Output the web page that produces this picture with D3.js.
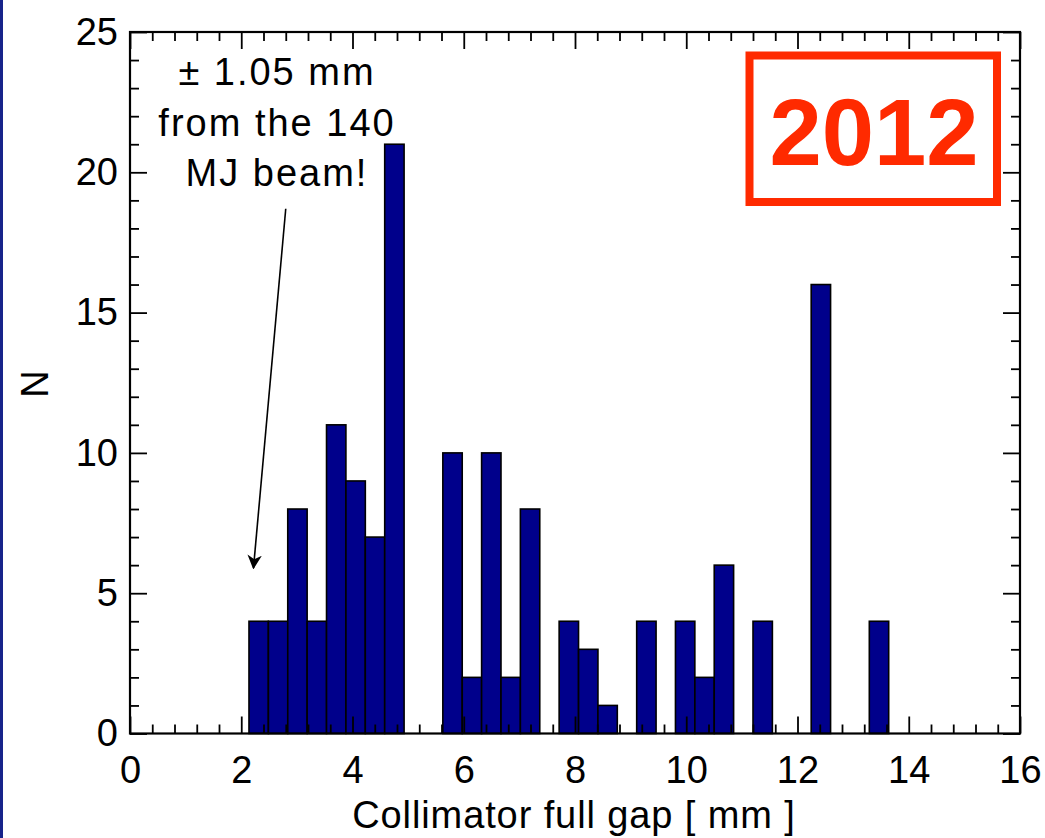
<!DOCTYPE html>
<html>
<head>
<meta charset="utf-8">
<script src="https://cdn.jsdelivr.net/npm/d3@7"></script>
<style>
  html, body { margin: 0; padding: 0; background: #fff; }
  svg { display: block; }
  text { font-family: "Liberation Sans", Arial, Helvetica, sans-serif; }
</style>
</head>
<body>
<svg id="chart" width="1045" height="838"></svg>
<script>
// ---- data ----
const binWidth = 0.3485;                 // mm
const binLeft = [2.139, 2.488, 2.836, 3.185, 3.533, 3.882, 4.230, 4.579,
                 5.624, 5.973, 6.321, 6.670, 7.018,
                 7.715, 8.064, 8.412,
                 9.109, 9.806, 10.155, 10.503,
                 11.200, 12.246, 13.291];
const counts  = [4, 4, 8, 4, 11, 9, 7, 21,
                 10, 2, 10, 2, 8,
                 4, 3, 1,
                 4, 4, 2, 6,
                 4, 16, 4];
const xMajorTicks = [0, 2, 4, 6, 8, 10, 12, 14, 16];
const yMajorTicks = [0, 5, 10, 15, 20, 25];
const annotationLines = ["\u00b1 1.05 mm", "from the 140", "MJ beam!"];
const yearLabel = "2012";

// ---- layout ----
const svg = d3.select("#chart");
const L = 130, R = 1020, T = 32, B = 733.5;
const x = d3.scaleLinear().domain([0, 16]).range([L, R]);
const y = d3.scaleLinear().domain([0, 25]).range([B, T]);

const xMinor = d3.range(0, 16.001, 0.4).filter(v => Math.abs(v/2 - Math.round(v/2)) > 1e-6);
const yMinor = d3.range(0, 25.001, 1).filter(v => v % 5 !== 0);

// left slide stripe
svg.append("rect").attr("x", 0).attr("y", 0).attr("width", 3).attr("height", 838).attr("fill", "#17238a");

// bars
svg.append("g").selectAll("rect").data(binLeft.map((b, i) => ({b, c: counts[i]})))
  .join("rect")
  .attr("x", d => x(d.b))
  .attr("y", d => y(d.c))
  .attr("width", d => x(d.b + binWidth) - x(d.b))
  .attr("height", d => y(0) - y(d.c))
  .attr("fill", "#00008b")
  .attr("stroke", "#000")
  .attr("stroke-width", 1.6);

// axes
function styleAxis(g) {
  g.select(".domain").remove();
  g.selectAll(".tick line").attr("stroke", "#000").attr("stroke-width", 1.8);
  g.selectAll("text").attr("font-size", 38).attr("fill", "#000")
    .attr("font-family", '"Liberation Sans", Arial, Helvetica, sans-serif');
}
// bottom
svg.append("g").attr("transform", `translate(0,${B})`)
  .call(d3.axisBottom(x).tickValues(xMajorTicks).tickSize(-17).tickPadding(23).tickFormat(d3.format("d")))
  .call(styleAxis);
svg.append("g").attr("transform", `translate(0,${B})`)
  .call(d3.axisBottom(x).tickValues(xMinor).tickSize(-9).tickFormat(""))
  .call(styleAxis);
// top
svg.append("g").attr("transform", `translate(0,${T})`)
  .call(d3.axisTop(x).tickValues(xMajorTicks).tickSize(-17).tickFormat(""))
  .call(styleAxis);
svg.append("g").attr("transform", `translate(0,${T})`)
  .call(d3.axisTop(x).tickValues(xMinor).tickSize(-9).tickFormat(""))
  .call(styleAxis);
// left
svg.append("g").attr("transform", `translate(${L},0)`)
  .call(d3.axisLeft(y).tickValues(yMajorTicks).tickSize(-17).tickPadding(12).tickFormat(d3.format("d")))
  .call(styleAxis);
svg.append("g").attr("transform", `translate(${L},0)`)
  .call(d3.axisLeft(y).tickValues(yMinor).tickSize(-9).tickFormat(""))
  .call(styleAxis);
// right
svg.append("g").attr("transform", `translate(${R},0)`)
  .call(d3.axisRight(y).tickValues(yMajorTicks).tickSize(-17).tickFormat(""))
  .call(styleAxis);
svg.append("g").attr("transform", `translate(${R},0)`)
  .call(d3.axisRight(y).tickValues(yMinor).tickSize(-9).tickFormat(""))
  .call(styleAxis);

// frame
svg.append("rect").attr("x", L).attr("y", T).attr("width", R - L).attr("height", B - T)
  .attr("fill", "none").attr("stroke", "#000").attr("stroke-width", 2.2);

// axis titles
svg.append("text").attr("x", (L + R) / 2 - 1).attr("y", 828).attr("text-anchor", "middle")
  .attr("font-size", 38).attr("letter-spacing", 0.9).text("Collimator full gap [ mm ]");
svg.append("text").attr("transform", "translate(48,384) rotate(-90)").attr("text-anchor", "middle")
  .attr("font-size", 38).text("N");

// annotation
const ann = svg.append("text").attr("text-anchor", "middle").attr("font-size", 38).attr("letter-spacing", 2);
annotationLines.forEach((t, i) => {
  ann.append("tspan").attr("x", 277).attr("y", 85 + i * 50.5).text(t);
});
svg.append("defs").append("marker").attr("id", "arrow")
  .attr("viewBox", "0 0 10 10").attr("refX", 9).attr("refY", 5)
  .attr("markerWidth", 9).attr("markerHeight", 9).attr("orient", "auto")
  .append("path").attr("d", "M0,0 L10,5 L0,10 L3,5 Z").attr("fill", "#000");
svg.append("line")
  .attr("x1", x(2.80)).attr("y1", y(18.7))
  .attr("x2", x(2.22)).attr("y2", y(5.9))
  .attr("stroke", "#000").attr("stroke-width", 1.6)
  .attr("marker-end", "url(#arrow)");

// year box
svg.append("rect").attr("x", 749.5).attr("y", 55.5).attr("width", 247.5).attr("height", 146.5)
  .attr("fill", "#fff").attr("stroke", "#ff2a00").attr("stroke-width", 8);
svg.append("text").attr("x", 874).attr("y", 165).attr("text-anchor", "middle")
  .attr("font-size", 94).attr("font-weight", "bold").attr("fill", "#ff2a00").text(yearLabel);
</script>
</body>
</html>
